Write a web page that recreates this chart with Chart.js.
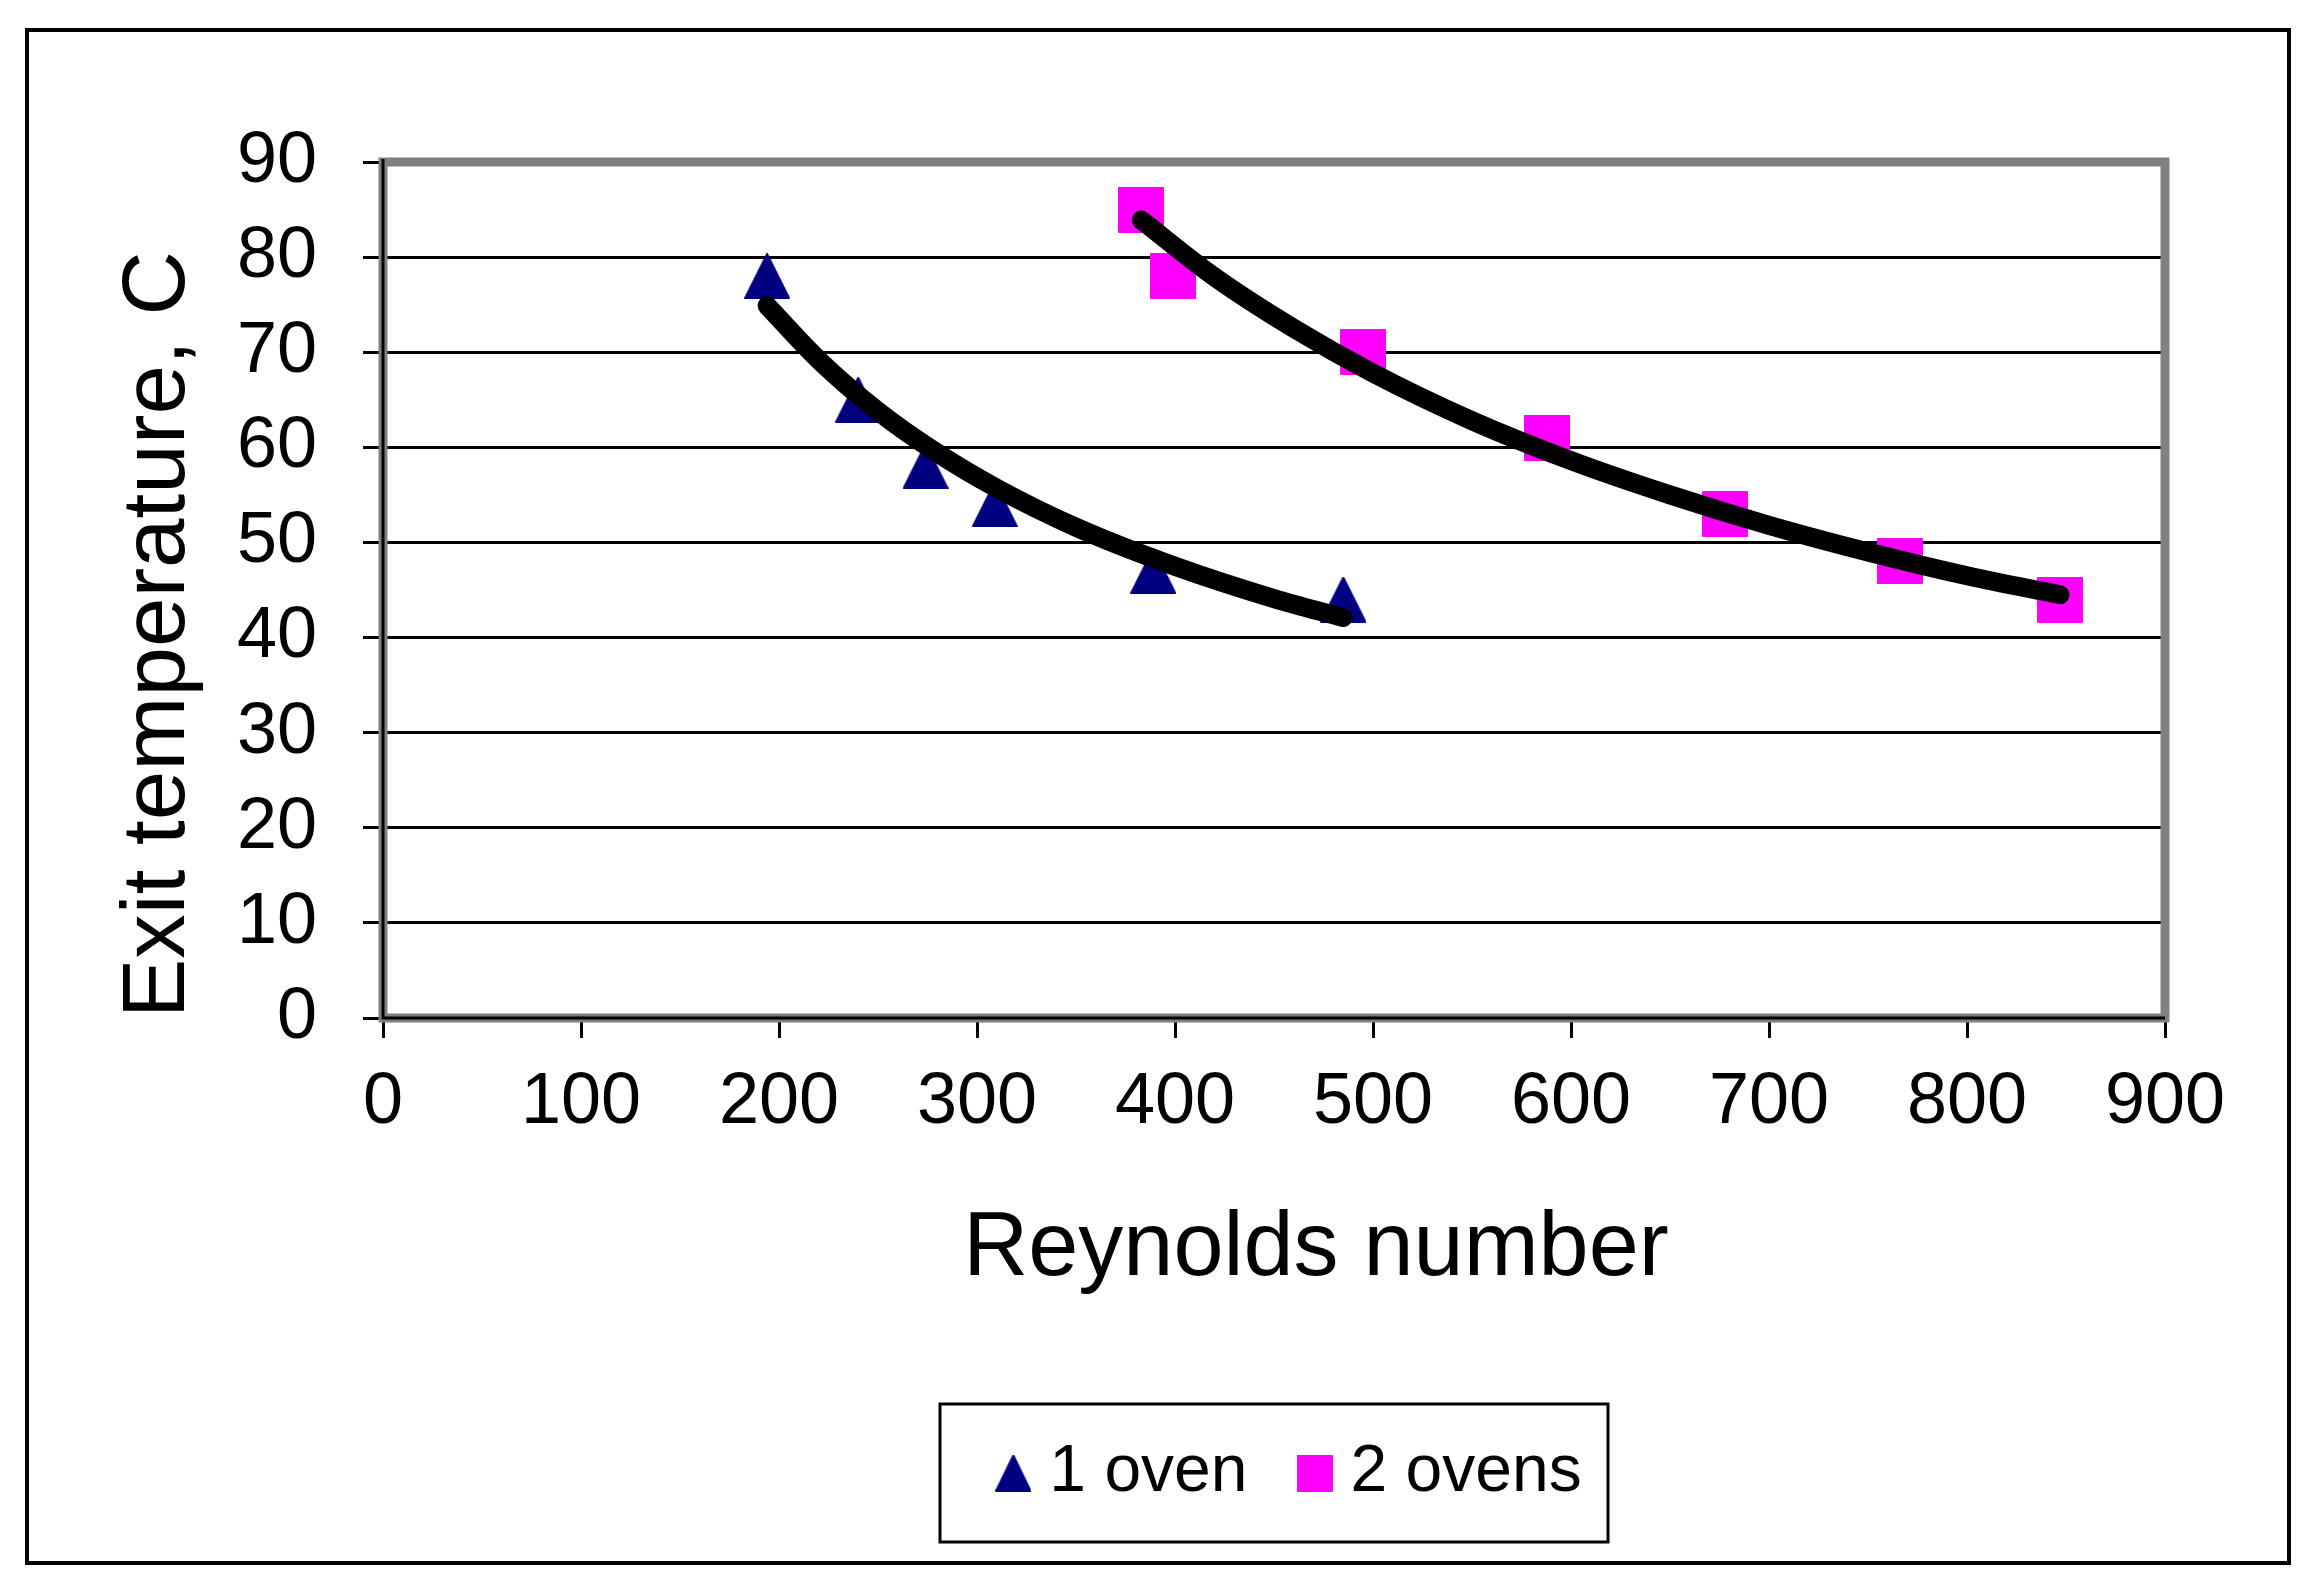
<!DOCTYPE html>
<html>
<head>
<meta charset="utf-8">
<title>Exit temperature vs Reynolds number</title>
<script src="https://cdn.jsdelivr.net/npm/chart.js@4.4.0/dist/chart.umd.min.js"></script>
<style>
  html, body { margin: 0; padding: 0; background: #fff; }
  canvas { display: block; }
</style>
</head>
<body>
<canvas id="exitTempChart" width="2313" height="1593"></canvas>
<script>
"use strict";

// data
let seriesNames = ['1 oven', '2 ovens']
let oneOvenRe = [194, 240, 274, 309, 389, 485]
let oneOvenTemp = [78, 65, 58, 54, 47, 44]
let twoOvenRe = [383, 399, 495, 588, 678, 766, 847]
let twoOvenTemp = [85, 78, 70, 61, 53, 48, 44]

// power trend lines (black)
let oneOvenTrendRe = [194, 220, 250, 280, 310, 350, 400, 450, 485]
let oneOvenTrendTemp = [74.9, 69.2, 63.8, 59.4, 55.7, 51.6, 47.5, 44.1, 42.1]
let twoOvenTrendRe = [383, 420, 460, 500, 550, 600, 650, 700, 750, 800, 847]
let twoOvenTrendTemp = [83.9, 77.9, 72.5, 67.8, 62.8, 58.6, 55.0, 51.8, 49.0, 46.5, 44.5]

// tick labels
let xTickValues = [0, 100, 200, 300, 400, 500, 600, 700, 800, 900]
let yTickValues = [0, 10, 20, 30, 40, 50, 60, 70, 80, 90]

var fontFamily = "'Liberation Sans', Arial, sans-serif";

function toPoints(xs, ys) {
  return xs.map(function (x, i) { return { x: x, y: ys[i] }; });
}

// excel style markers drawn on small canvases
function makeMarker(shape, w, h, color) {
  var c = document.createElement('canvas');
  c.width = w;
  c.height = h;
  var ctx = c.getContext('2d');
  ctx.fillStyle = color;
  ctx.strokeStyle = color;
  ctx.lineJoin = 'round';
  ctx.lineWidth = 2;
  ctx.beginPath();
  if (shape === 'triangle') {
    ctx.moveTo(w / 2, 1);
    ctx.lineTo(w - 1, h - 1);
    ctx.lineTo(1, h - 1);
  } else {
    ctx.rect(1, 1, w - 2, h - 2);
  }
  ctx.closePath();
  ctx.fill();
  ctx.stroke();
  return c;
}

var triMarker = makeMarker('triangle', 46, 46, '#000080');
var sqMarker = makeMarker('square', 46, 46, '#FF00FF');
var legendIcons = [makeMarker('triangle', 36, 37, '#000080'), makeMarker('square', 36, 37, '#FF00FF')];

// gray plot frame, black axis lines, legend box and outer border
var framePlugin = {
  id: 'frame',
  afterLayout: function (chart) {
    // excel puts the legend entries a bit right of the box centre
    chart.legend.left += 22;
    chart.legend.right += 22;

    // ...and the x title a bit right of the plot centre
    var xScale = chart.scales.x;
    if (xScale && !xScale._titleShifted) {
      var drawTitle = xScale.drawTitle;
      xScale.drawTitle = function () {
        chart.ctx.save();
        chart.ctx.translate(42, 0);
        drawTitle.apply(this, arguments);
        chart.ctx.restore();
      };
      xScale._titleShifted = true;
    }
  },
  beforeDatasetsDraw: function (chart) {
    var ctx = chart.ctx, a = chart.chartArea;
    ctx.save();
    ctx.strokeStyle = '#808080';
    ctx.lineWidth = 9;
    ctx.strokeRect(a.left, a.top, a.right - a.left, a.bottom - a.top);
    ctx.strokeStyle = '#000';
    ctx.lineWidth = 3;
    ctx.beginPath();
    ctx.moveTo(a.left, a.top - 3);
    ctx.lineTo(a.left, a.bottom);
    ctx.lineTo(a.right, a.bottom);
    ctx.stroke();
    ctx.restore();
  },
  afterDraw: function (chart) {
    var ctx = chart.ctx, a = chart.chartArea;
    var hb = chart.legend.legendHitBoxes[0];
    ctx.save();
    ctx.strokeStyle = '#000';
    ctx.lineWidth = 3;
    if (hb) {
      var cx = (a.left + a.right) / 2;
      var cy = hb.top + hb.height / 2;
      ctx.strokeRect(cx - 334, cy - 69, 668, 138);
    }
    ctx.lineWidth = 4;
    ctx.strokeRect(27, 30, chart.width - 51, chart.height - 60);
    ctx.restore();
  }
};

var exitTempChart = document.getElementById('exitTempChart');
if (exitTempChart) {
  new Chart(exitTempChart, {
    type: 'scatter',
    data: {
      datasets: [{
        label: seriesNames[0],
        data: toPoints(oneOvenRe, oneOvenTemp),
        pointStyle: triMarker,
        pointRadius: 23,
        backgroundColor: '#000080',
        borderColor: '#000080',
        order: 1
      }, {
        label: seriesNames[1],
        data: toPoints(twoOvenRe, twoOvenTemp),
        pointStyle: sqMarker,
        pointRadius: 23,
        backgroundColor: '#FF00FF',
        borderColor: '#FF00FF',
        order: 1
      }, {
        label: 'trend 1',
        data: toPoints(oneOvenTrendRe, oneOvenTrendTemp),
        showLine: true,
        pointRadius: 0,
        borderColor: '#000',
        borderWidth: 19,
        borderCapStyle: 'round',
        borderJoinStyle: 'round',
        cubicInterpolationMode: 'monotone',
        order: 0
      }, {
        label: 'trend 2',
        data: toPoints(twoOvenTrendRe, twoOvenTrendTemp),
        showLine: true,
        pointRadius: 0,
        borderColor: '#000',
        borderWidth: 19,
        borderCapStyle: 'round',
        borderJoinStyle: 'round',
        cubicInterpolationMode: 'monotone',
        order: 0
      }]
    },
    options: {
      responsive: false,
      animation: false,
      events: [],
      layout: {
        padding: { left: 40, right: 148, top: 162, bottom: 77 }
      },
      scales: {
        x: {
          type: 'linear',
          min: xTickValues[0],
          max: xTickValues[xTickValues.length - 1],
          afterBuildTicks: function (scale) {
            scale.ticks = xTickValues.map(function (v) { return { value: v }; });
          },
          afterFit: function (scale) { scale.height = 358; },
          ticks: {
            color: '#000',
            padding: 22,
            maxRotation: 0,
            autoSkip: false,
            font: { family: fontFamily, size: 72 }
          },
          grid: {
            drawOnChartArea: false,
            drawTicks: true,
            tickLength: 20,
            color: '#000',
            lineWidth: 3
          },
          border: { display: false },
          title: {
            display: true,
            text: 'Reynolds number',
            color: '#000',
            font: { family: fontFamily, size: 90 },
            padding: { top: 0, bottom: 72 }
          }
        },
        y: {
          type: 'linear',
          min: yTickValues[0],
          max: yTickValues[yTickValues.length - 1],
          afterBuildTicks: function (scale) {
            scale.ticks = yTickValues.map(function (v) { return { value: v }; });
          },
          afterFit: function (scale) { scale.width = 343; },
          ticks: {
            color: '#000',
            padding: 46,
            font: { family: fontFamily, size: 72 }
          },
          grid: {
            drawTicks: true,
            tickLength: 20,
            color: '#000',
            lineWidth: 3
          },
          border: { display: false },
          title: {
            display: true,
            text: 'Exit temperature, C',
            align: 'start',
            color: '#000',
            font: { family: fontFamily, size: 89 },
            padding: { top: 66, bottom: 0 }
          }
        }
      },
      plugins: {
        tooltip: { enabled: false },
        legend: {
          display: true,
          position: 'bottom',
          fullSize: false,
          labels: {
            usePointStyle: true,
            boxWidth: 6,
            padding: 64,
            color: '#000',
            font: { family: fontFamily, size: 66 },
            generateLabels: function (chart) {
              var items = Chart.defaults.plugins.legend.labels.generateLabels(chart);
              return items.filter(function (item) { return item.datasetIndex < 2; })
                .map(function (item) {
                  item.pointStyle = legendIcons[item.datasetIndex];
                  return item;
                });
            }
          }
        }
      }
    },
    plugins: [framePlugin]
  });
}
</script>
</body>
</html>
